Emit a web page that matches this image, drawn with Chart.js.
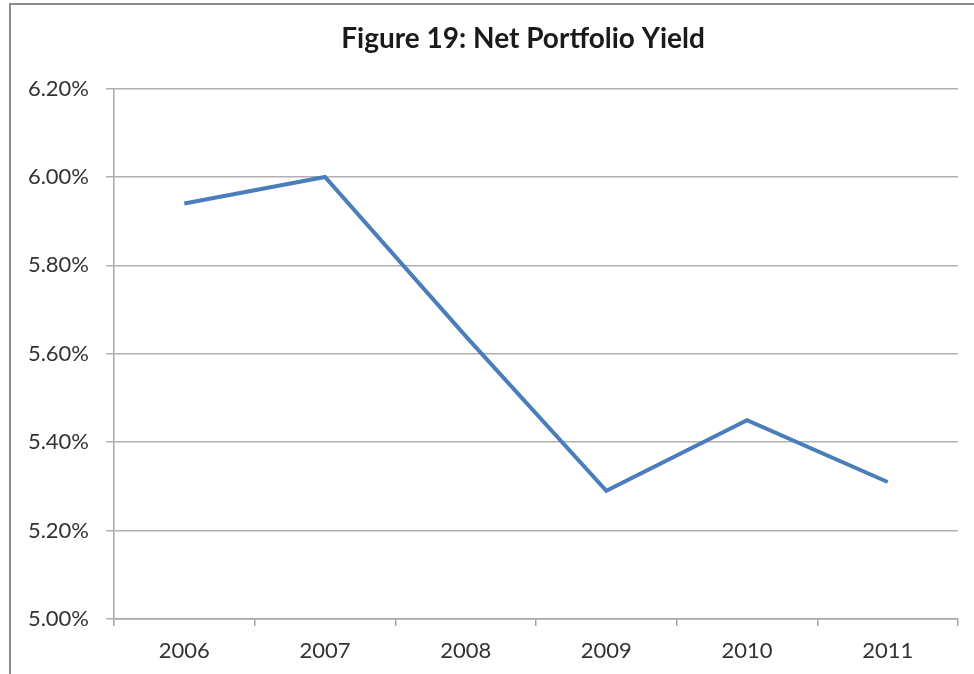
<!DOCTYPE html>
<html>
<head>
<meta charset="utf-8">
<script src="https://cdn.jsdelivr.net/npm/chart.js@4/dist/chart.umd.min.js"></script>
<style>
  html, body { margin: 0; padding: 0; background: #fff; overflow: hidden; }
  #wrap { position: relative; width: 974px; height: 674px; }
  #frame { position: absolute; left: 9px; top: 3px; width: 1000px; height: 700px;
           border-left: 2px solid #8c8c8c; border-top: 2px solid #8c8c8c; pointer-events: none; }
  canvas { position: absolute; left: 0; top: 0; }
</style>
</head>
<body>
<div id="wrap">
  <canvas id="c" width="974" height="674"></canvas>
  <div id="frame"></div>
</div>
<script>
const categories = ["2006", "2007", "2008", "2009", "2010", "2011"];
const yieldValues = [5.94, 6.00, 5.64, 5.29, 5.45, 5.31];
const titleText = "Figure 19: Net Portfolio Yield";
const yMin = 5.0, yMax = 6.2, yStep = 0.2;

const FONT = "Lato, 'Open Sans', 'Liberation Sans', sans-serif";

const titleShift = {
  id: 'titleShift',
  afterLayout(chart) {
    const t = chart.titleBlock;
    if (t) { t.left = 88; t.right = 958; }
  }
};

new Chart(document.getElementById('c'), {
  type: 'line',
  data: {
    labels: categories,
    datasets: [{
      data: yieldValues,
      borderColor: '#4a7ebb',
      borderWidth: 4,
      pointRadius: 0,
      tension: 0,
      fill: false
    }]
  },
  plugins: [titleShift],
  options: {
    responsive: false,
    animation: false,
    layout: { padding: { left: 0, right: 16, top: 0, bottom: 0 } },
    plugins: {
      legend: { display: false },
      tooltip: { enabled: false },
      title: {
        display: true,
        text: titleText,
        color: '#1a1a1a',
        font: { family: FONT, size: 28, weight: 'bold' },
        padding: { top: 22, bottom: 33 }
      }
    },
    scales: {
      x: {
        offset: true,
        grid: { offset: true, drawOnChartArea: false, drawTicks: true, tickLength: 7, color: '#a6a6a6', lineWidth: 1.5 },
        border: { display: true, color: '#a6a6a6', width: 1.5 },
        ticks: { color: '#333', font: { family: FONT, size: 22 }, padding: 12, maxRotation: 0 },
        afterFit: s => { s.height = 55; }
      },
      y: {
        min: yMin, max: yMax,
        grid: { color: '#b0b0b0', lineWidth: 1.5, tickLength: 8, drawTicks: true },
        border: { display: true, color: '#a6a6a6', width: 1.5 },
        ticks: {
          stepSize: yStep,
          color: '#333',
          font: { family: FONT, size: 22 },
          padding: 17,
          callback: v => Number(v).toFixed(2) + '%'
        },
        afterFit: s => { s.width = 114; }
      }
    }
  }
});
</script>
</body>
</html>
